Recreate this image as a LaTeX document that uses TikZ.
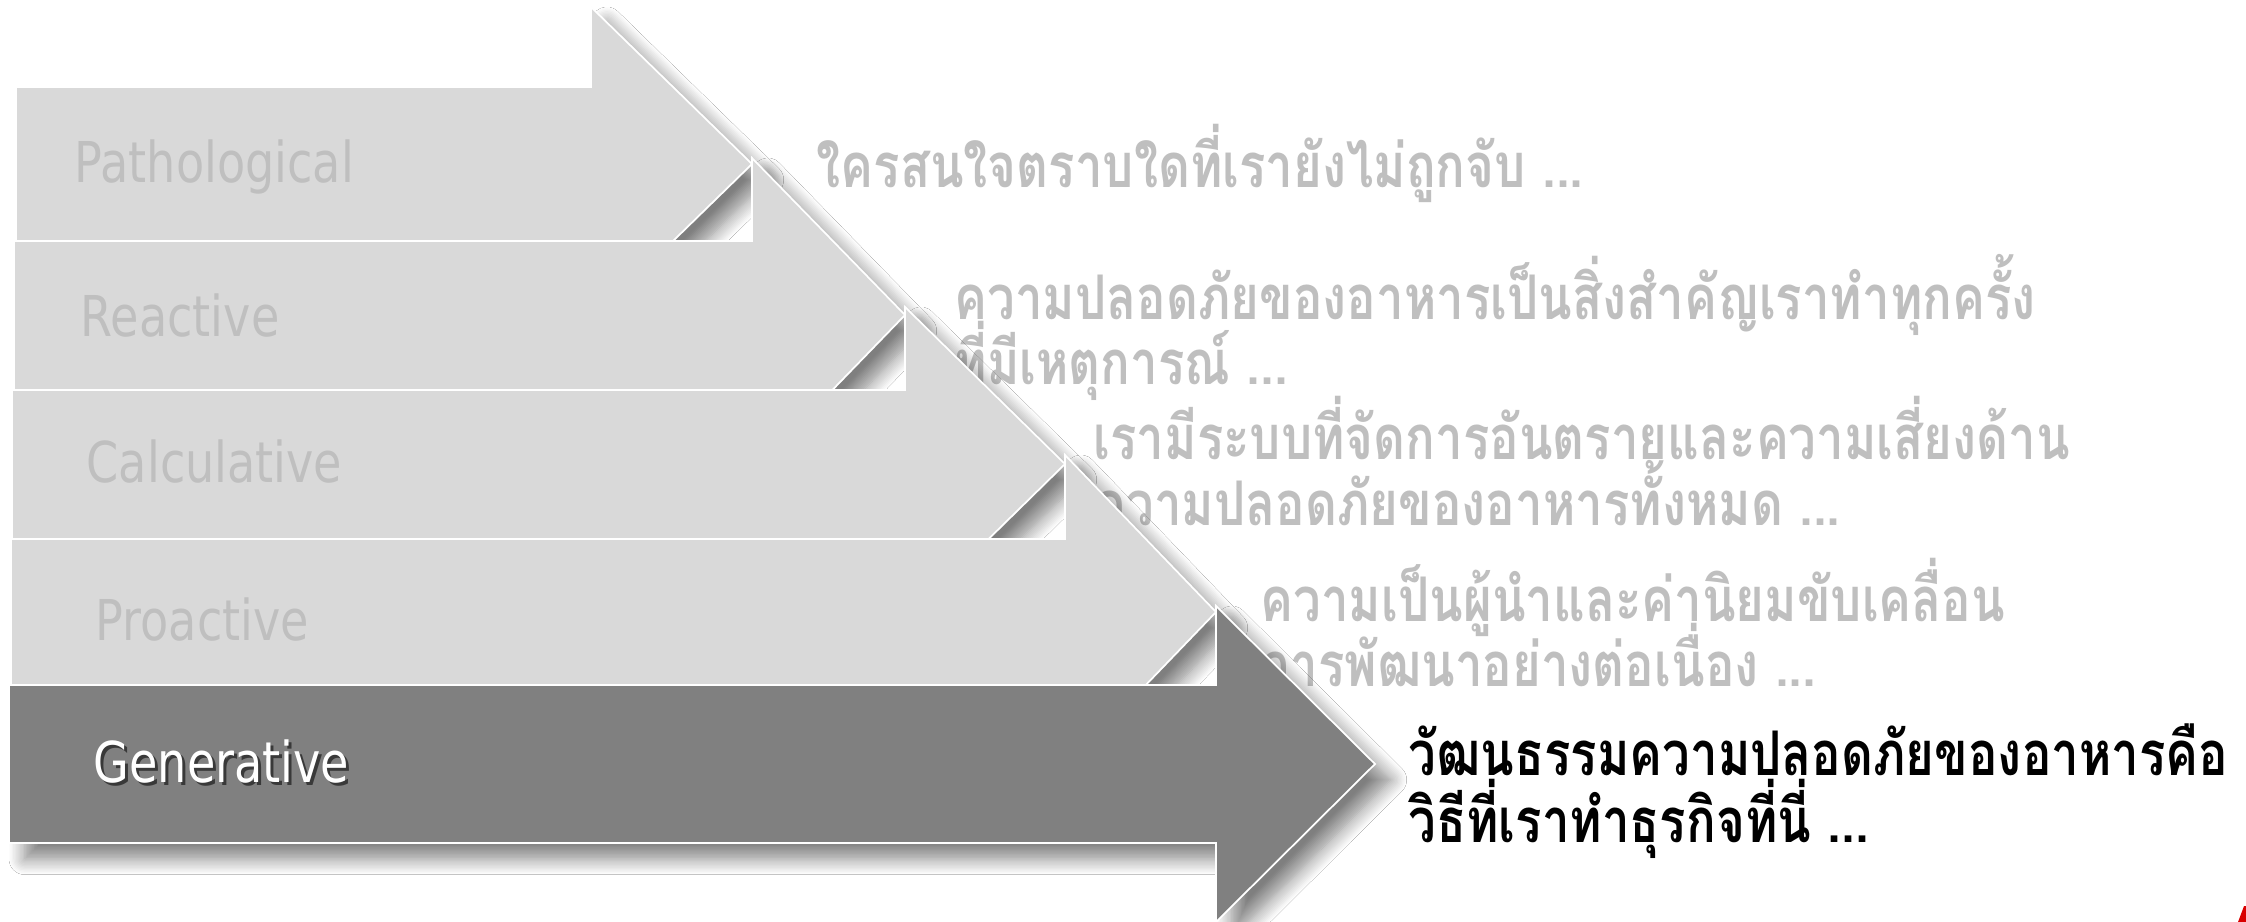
\documentclass[tikz,border=0pt]{standalone}
\usepackage{fontspec}
\newfontfamily\labfont{DejaVu Sans}[FakeStretch=0.82]
\newfontfamily\thaifont{Loma}[Script=Thai,FakeStretch=0.8]
\usetikzlibrary{shadows.blur}
\definecolor{arrowlight}{HTML}{D9D9D9}
\definecolor{arrowdark}{HTML}{808080}
\definecolor{labgrey}{HTML}{BFBFBF}
\definecolor{thaigrey}{HTML}{BFBFBF}
\tikzset{
  arrowshape/.style={draw=white, line width=0.5pt, line join=miter,
    blur shadow={shadow xshift=4.5pt, shadow yshift=-4.5pt, shadow blur radius=4.5pt, shadow blur steps=12, shadow opacity=50}},
  lightarrow/.style={arrowshape, fill=arrowlight},
  darkarrow/.style={arrowshape, fill=arrowdark},
  labtext/.style={font=\labfont\fontsize{16pt}{19pt}\selectfont, text=labgrey, anchor=base west, inner sep=0pt},
  thaitext/.style={font=\thaifont\bfseries\fontsize{17.5pt}{21pt}\selectfont, text=thaigrey, anchor=base west, inner sep=0pt},
  thaiblack/.style={thaitext, text=black}
}
\begin{document}
\begin{tikzpicture}[x=0.01cm,y=-0.01cm]
\useasboundingbox (0,0) rectangle (2246,922);
\fill[white] (0,0) rectangle (2246,922);

% descriptions (behind arrows)
\node[thaitext] (t1) at (816,188) {ใครสนใจตราบใดที่เรายังไม่ถูกจับ ...};
\node[thaitext] (t2a) at (954,320) {ความปลอดภัยของอาหารเป็นสิ่งสำคัญเราทำทุกครั้ง};
\node[thaitext] (t2b) at (954,385) {ที่มีเหตุการณ์ ...};
\node[thaitext] (t3a) at (1093,460) {เรามีระบบที่จัดการอันตรายและความเสี่ยงด้าน};
\node[thaitext] (t3b) at (1093,526) {ความปลอดภัยของอาหารทั้งหมด ...};
\node[thaitext] (t4a) at (1260,622) {ความเป็นผู้นำและค่านิยมขับเคลื่อน};
\node[thaitext] (t4b) at (1260,686) {การพัฒนาอย่างต่อเนื่อง ...};
\node[thaiblack] (t5a) at (1408,775) {วัฒนธรรมความปลอดภัยของอาหารคือ};
\node[thaiblack] (t5b) at (1408,842) {วิธีที่เราทำธุรกิจที่นี่ ...};

% arrows
\path[lightarrow] (16,87) -- (591,87) -- (591,7) -- (752,164) -- (591,321) -- (591,241) -- (16,241) -- cycle;
\path[lightarrow] (14,241) -- (752,241) -- (752,158) -- (905,315) -- (752,473) -- (752,390) -- (14,390) -- cycle;
\path[lightarrow] (12,390) -- (905,390) -- (905,307) -- (1065,464) -- (905,621) -- (905,539) -- (12,539) -- cycle;
\path[lightarrow] (11,539) -- (1065,539) -- (1065,455) -- (1216,612) -- (1065,769) -- (1065,685) -- (11,685) -- cycle;
\path[darkarrow] (9,685) -- (1216,685) -- (1216,606) -- (1375,764) -- (1216,922) -- (1216,843) -- (9,843) -- cycle;

% labels
\node[labtext] (l1) at (74,183) {Pathological};
\node[labtext] (l2) at (80,337) {Reactive};
\node[labtext] (l3) at (86,483) {Calculative};
\node[labtext] (l4) at (95,640) {Proactive};
\node[labtext, text=black, opacity=0.55] (l5s) at (96,785) {Generative};
\node[labtext, text=white] (l5) at (93,782) {Generative};

% red corner sliver
\fill[red!85!black] (2238,922) -- (2244,906) -- (2246,906) -- (2246,922) -- cycle;
\end{tikzpicture}
\end{document}
